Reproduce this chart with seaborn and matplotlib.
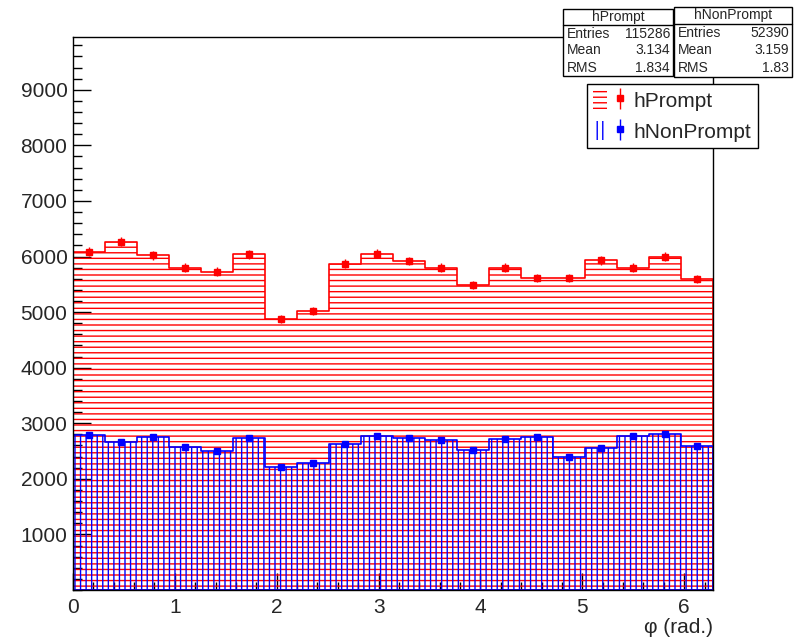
import numpy as np
import matplotlib
matplotlib.use("Agg")
import matplotlib.pyplot as plt
import seaborn as sns
from matplotlib.patches import Patch, Rectangle
from matplotlib.lines import Line2D
from matplotlib.ticker import MultipleLocator
from matplotlib.legend_handler import HandlerTuple

# 20 bins over [0, 2pi]
n_bins = 20
phi_max = 2 * np.pi

prompt_counts = [6090, 6270, 6020, 5800, 5730, 6040, 4880, 5020, 5870, 6050,
                 5920, 5800, 5490, 5800, 5610, 5610, 5930, 5800, 6000, 5600]
nonprompt_counts = [2790, 2660, 2750, 2570, 2500, 2730, 2210, 2280, 2620, 2770,
                    2730, 2700, 2520, 2710, 2750, 2390, 2550, 2770, 2800, 2590]

stat_names = ["Entries", "Mean", "RMS"]
prompt_stats = ["115286", "3.134", "1.834"]
nonprompt_stats = ["52390", "3.159", "1.83"]

W, H = 810, 644


def fx(px):
    return px / W


def fy(py):
    return 1 - py / H


sns.set_theme(style="ticks")
plt.rcParams["font.family"] = ["Liberation Sans", "DejaVu Sans"]
plt.rcParams["hatch.linewidth"] = 1.0

edges = np.linspace(0, phi_max, n_bins + 1)
centers = 0.5 * (edges[:-1] + edges[1:])

fig = plt.figure(figsize=(W / 100, H / 100), dpi=100)
ax = fig.add_axes([fx(73), fy(590), (713 - 73) / W, (590 - 37) / H])

plt.rcParams["hatch.color"] = (1, 0, 0, 0.7)
sns.histplot(x=centers, weights=prompt_counts, bins=edges.tolist(), element="step",
             fill=True, color="red", facecolor="none", edgecolor="red",
             hatch="---", linewidth=1.2, ax=ax)
plt.rcParams["hatch.color"] = (0, 0, 1, 0.75)
sns.histplot(x=centers, weights=nonprompt_counts, bins=edges.tolist(), element="step",
             fill=True, color="blue", facecolor="none", edgecolor="blue",
             hatch="|||", linewidth=1.2, ax=ax)

err_p = ax.errorbar(centers, prompt_counts, yerr=np.sqrt(prompt_counts),
                    fmt="s", color="red", ms=4, elinewidth=1, capsize=0, zorder=5)
err_np = ax.errorbar(centers, nonprompt_counts, yerr=np.sqrt(nonprompt_counts),
                     fmt="s", color="blue", ms=4, elinewidth=1, capsize=0, zorder=5)

ax.set_xlim(0, phi_max)
ax.set_ylim(0, 9950)
ax.set_ylabel("")
ax.set_xlabel("φ (rad.)", fontsize=15, loc="right")
ax.xaxis.set_label_coords(1.0, -0.05)
ax.xaxis.set_major_locator(MultipleLocator(1))
ax.xaxis.set_minor_locator(MultipleLocator(0.2))
ax.yaxis.set_major_locator(MultipleLocator(1000))
ax.yaxis.set_minor_locator(MultipleLocator(200))
ax.set_yticks(np.arange(1000, 10000, 1000))
ax.tick_params(which="both", direction="in", top=False, right=False,
               color="black", width=1)
ax.tick_params(axis="y", which="major", length=13, labelsize=15, pad=4)
ax.tick_params(axis="y", which="minor", length=6.5)
ax.tick_params(axis="x", which="major", length=12, labelsize=15, pad=6)
ax.tick_params(axis="x", which="minor", length=6)
for sp in ax.spines.values():
    sp.set_color("black")
    sp.set_linewidth(1)

# legend
h_p = (Patch(facecolor="none", edgecolor="red", hatch="---", lw=0), err_p)
h_np = (Patch(facecolor="none", edgecolor="blue", hatch="|||", lw=0), err_np)
leg = ax.legend([h_p, h_np], ["hPrompt", "hNonPrompt"],
                handler_map={tuple: HandlerTuple(ndivide=None)},
                loc="upper left", bbox_to_anchor=(fx(587), fy(84)),
                bbox_transform=fig.transFigure, borderaxespad=0,
                fancybox=False, edgecolor="black", framealpha=1,
                fontsize=15, handlelength=1.6, handleheight=1.0,
                handletextpad=0.35, labelspacing=0.5, borderpad=0.3)
leg.get_frame().set_linewidth(1)


# stats boxes
def stats_box(x0, x1, y0, y1, ysep, title, values):
    fig.add_artist(Rectangle((fx(x0), fy(y1)), fx(x1) - fx(x0), fy(y0) - fy(y1),
                             transform=fig.transFigure, facecolor="white",
                             edgecolor="black", lw=1, zorder=4))
    fig.add_artist(Line2D([fx(x0), fx(x1)], [fy(ysep), fy(ysep)],
                          transform=fig.transFigure, color="black", lw=1, zorder=5))
    fig.text(fx((x0 + x1) / 2), fy((y0 + ysep) / 2), title, ha="center",
             va="center", fontsize=10, zorder=6)
    row_h = (y1 - ysep) / 3
    for i, (name, val) in enumerate(zip(stat_names, values)):
        yc = ysep + row_h * (i + 0.5)
        fig.text(fx(x0 + 4), fy(yc), name, ha="left", va="center",
                 fontsize=10, zorder=6)
        fig.text(fx(x1 - 3), fy(yc), val, ha="right", va="center",
                 fontsize=10, zorder=6)


stats_box(563, 673, 9, 76, 25, "hPrompt", prompt_stats)
stats_box(674, 792, 7, 77, 24, "hNonPrompt", nonprompt_stats)

fig.savefig("out.png", dpi=100)
